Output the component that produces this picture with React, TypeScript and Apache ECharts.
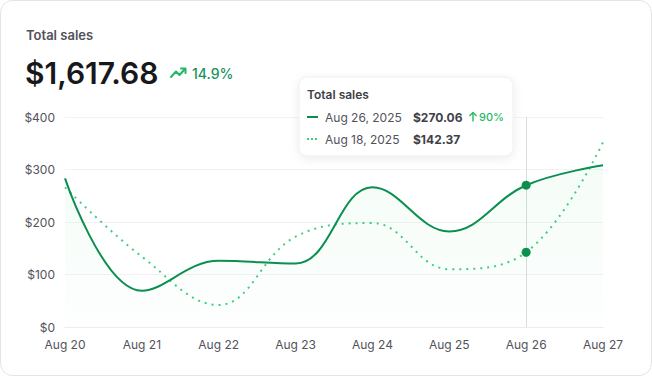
import React, { useEffect, useRef } from "react";
import * as echarts from "echarts";

const categories = ["Aug 20", "Aug 21", "Aug 22", "Aug 23", "Aug 24", "Aug 25", "Aug 26", "Aug 27"];
const currentSales = [283, 69, 126, 121, 266, 182, 270.06, 308];
const previousSales = [266, 134, 42, 172, 198, 110, 142.37, 352];
const yTicks = [0, 100, 200, 300, 400];
const highlightIndex = 6;

const DARK = "#0b8f50";
const LIGHT = "#3ecf7f";

export default function App() {
  const ref = useRef<HTMLDivElement>(null);
  useEffect(() => {
    document.body.style.margin = "0";
    const chart = echarts.init(ref.current!, undefined, { renderer: "svg" });
    const font = "Inter, 'Noto Sans', sans-serif";
    const sym = (_v: any, p: any) => (p.dataIndex === highlightIndex ? 9 : 0);
    const dotStyle = { color: DARK, borderWidth: 0, opacity: 1 };
    chart.setOption({
      animation: false,
      textStyle: { fontFamily: font },
      grid: { left: 65, right: 49, top: 117, bottom: 49 },
      xAxis: {
        type: "category",
        data: categories,
        boundaryGap: false,
        axisLine: { show: true, lineStyle: { color: "#ececec" } },
        axisTick: { show: false },
        axisLabel: { color: "#52525b", fontSize: 12, margin: 11, fontFamily: font },
        splitLine: { show: false },
      },
      yAxis: {
        type: "value",
        min: yTicks[0],
        max: yTicks[yTicks.length - 1],
        interval: 100,
        axisLabel: { color: "#52525b", fontSize: 12, margin: 10, formatter: (v: number) => "$" + v, fontFamily: font },
        axisLine: { show: false },
        axisTick: { show: false },
        splitLine: { lineStyle: { color: "#f2f2f2" } },
      },
      series: [
        {
          name: "pointer",
          type: "line",
          data: [],
          z: 0,
          markLine: {
            silent: true,
            symbol: "none",
            label: { show: false },
            lineStyle: { color: "#dcdcdc", type: "solid", width: 1 },
            data: [{ xAxis: categories[highlightIndex] }],
          },
        },
        {
          name: "Aug 18, 2025",
          type: "line",
          data: previousSales,
          smooth: 0.4,
          symbol: "circle",
          symbolSize: sym,
          itemStyle: dotStyle,
          lineStyle: { color: LIGHT, width: 2, type: [2, 5] },
          z: 5,
        },
        {
          name: "Aug 26, 2025",
          type: "line",
          data: currentSales,
          smooth: 0.4,
          symbol: "circle",
          symbolSize: sym,
          itemStyle: dotStyle,
          lineStyle: { color: DARK, width: 2 },
          areaStyle: {
            color: new echarts.graphic.LinearGradient(0, 0, 0, 1, [
              { offset: 0, color: "rgba(34,197,94,0.07)" },
              { offset: 1, color: "rgba(34,197,94,0.01)" },
            ]),
          },
          z: 6,
        },
      ],
      graphic: [
        {
          type: "rect",
          shape: { x: 0.5, y: 0.5, width: 651, height: 375, r: 12 },
          style: { fill: "none", stroke: "#e4e4e7", lineWidth: 1 },
          silent: true,
        },
        {
          type: "text",
          x: 26,
          y: 35,
          style: { text: "Total sales", fontSize: 13, fontWeight: 600, fill: "#52525b", fontFamily: font, textVerticalAlign: "middle" },
        },
        {
          type: "text",
          x: 25,
          y: 73,
          style: { text: "$1,617.68", fontSize: 30, fontWeight: 600, fill: "#18181b", fontFamily: font, textVerticalAlign: "middle" },
        },
        {
          type: "polyline",
          shape: { points: [[171, 77], [176, 71.5], [179.5, 75], [185, 69]] },
          style: { stroke: "#1fb864", lineWidth: 2, fill: "none", lineJoin: "round", lineCap: "round" },
        },
        {
          type: "polyline",
          shape: { points: [[181, 68.5], [185.5, 68.5], [185.5, 73]] },
          style: { stroke: "#1fb864", lineWidth: 2, fill: "none", lineJoin: "round", lineCap: "round" },
        },
        {
          type: "text",
          x: 192,
          y: 73,
          style: { text: "14.9%", fontSize: 14, fontWeight: 500, fill: "#15935a", fontFamily: font, textVerticalAlign: "middle" },
        },
        {
          type: "rect",
          shape: { x: 299, y: 77, width: 214, height: 79, r: 8 },
          style: { fill: "#ffffff", stroke: "#efefef", lineWidth: 1, shadowBlur: 10, shadowColor: "rgba(0,0,0,0.08)", shadowOffsetY: 2 },
          z: 100,
        },
        {
          type: "text",
          x: 307,
          y: 94,
          z: 101,
          style: { text: "Total sales", fontSize: 12, fontWeight: 600, fill: "#3f3f46", fontFamily: font, textVerticalAlign: "middle" },
        },
        {
          type: "line",
          z: 101,
          shape: { x1: 307, y1: 117, x2: 318, y2: 117 },
          style: { stroke: DARK, lineWidth: 2 },
        },
        {
          type: "line",
          z: 101,
          shape: { x1: 307, y1: 139, x2: 319, y2: 139 },
          style: { stroke: LIGHT, lineWidth: 2, lineDash: [2, 2] },
        },
        {
          type: "text",
          x: 325,
          y: 117,
          z: 101,
          style: { text: "Aug 26, 2025", fontSize: 12, fill: "#52525b", fontFamily: font, textVerticalAlign: "middle" },
        },
        {
          type: "text",
          x: 325,
          y: 139,
          z: 101,
          style: { text: "Aug 18, 2025", fontSize: 12, fill: "#52525b", fontFamily: font, textVerticalAlign: "middle" },
        },
        {
          type: "text",
          x: 413,
          y: 117,
          z: 101,
          style: { text: "$270.06", fontSize: 12, fontWeight: 700, fill: "#3f3f46", fontFamily: font, textVerticalAlign: "middle" },
        },
        {
          type: "text",
          x: 413,
          y: 139,
          z: 101,
          style: { text: "$142.37", fontSize: 12, fontWeight: 700, fill: "#3f3f46", fontFamily: font, textVerticalAlign: "middle" },
        },
        {
          type: "polyline",
          z: 101,
          shape: { points: [[473, 121.5], [473, 112.5]] },
          style: { stroke: "#1fb864", lineWidth: 1.4, fill: "none" },
        },
        {
          type: "polyline",
          z: 101,
          shape: { points: [[469.5, 116], [473, 112.5], [476.5, 116]] },
          style: { stroke: "#1fb864", lineWidth: 1.4, fill: "none", lineJoin: "round" },
        },
        {
          type: "text",
          x: 479,
          y: 117,
          z: 101,
          style: { text: "90%", fontSize: 11, fontWeight: 500, fill: "#1fb864", fontFamily: font, textVerticalAlign: "middle" },
        },
      ],
    });
    return () => chart.dispose();
  }, []);
  return <div ref={ref} style={{ position: "absolute", left: 0, top: 0, width: 652, height: 376 }} />;
}
